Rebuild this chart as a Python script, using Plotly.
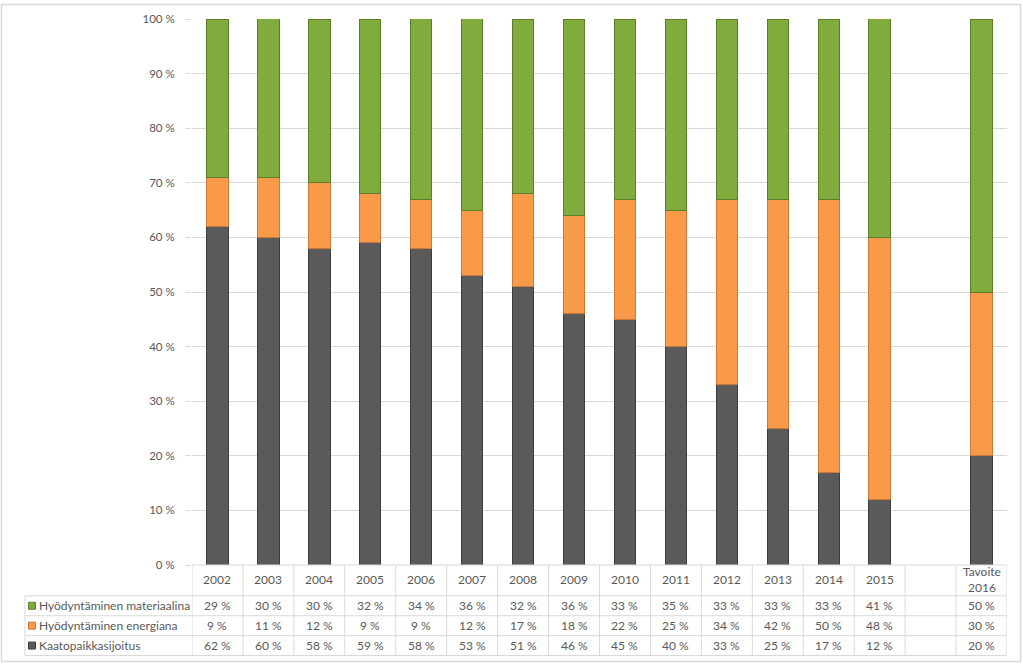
import plotly.graph_objects as go

categories = ["2002", "2003", "2004", "2005", "2006", "2007", "2008", "2009",
              "2010", "2011", "2012", "2013", "2014", "2015", " ", "Tavoite<br>2016"]
kaatopaikka = [62, 60, 58, 59, 58, 53, 51, 46, 45, 40, 33, 25, 17, 12, None, 20]
energia = [9, 11, 12, 9, 9, 12, 17, 18, 22, 25, 34, 42, 50, 48, None, 30]
materiaali = [29, 30, 30, 32, 34, 36, 32, 36, 33, 35, 33, 33, 33, 41, None, 50]
series_names = ["Hyödyntäminen materiaalina", "Hyödyntäminen energiana", "Kaatopaikkasijoitus"]
y_ticks = [0, 10, 20, 30, 40, 50, 60, 70, 80, 90, 100]
y_ticktext = [f"{v} %" for v in y_ticks]

# layout constants (pixels)
W, H = 1023, 668
L, R, T, B = 192, 16, 16, 103
plot_h = H - T - B
plot_w = W - L - R

def py(p):
    return (H - B - p) / plot_h

def px(p):
    return (p - L) / plot_w

c_gray, c_orange, c_green = "#5a5a5a", "#f89a48", "#7fac3c"
l_gray, l_orange, l_green = "#3c3c3c", "#c9793a", "#5c7e2a"
text_col = "#595959"
grid_col = "#d9d9d9"
font_fam = "Lato, 'Open Sans', sans-serif"
fs = 11.5
fs_t = 12

fig = go.Figure()
for vals, name, col, lc in [(kaatopaikka, series_names[2], c_gray, l_gray),
                            (energia, series_names[1], c_orange, l_orange),
                            (materiaali, series_names[0], c_green, l_green)]:
    fig.add_trace(go.Bar(x=categories, y=vals, name=name, width=0.42,
                         marker=dict(color=col, line=dict(color=lc, width=1)),
                         showlegend=False))

shapes = []
annotations = []
row_y = [py(565), py(596), py(616), py(636), py(656)]
n = len(categories)
# horizontal lines of table
shapes.append(dict(type="line", xref="paper", yref="paper", x0=0, x1=1, y0=row_y[0], y1=row_y[0],
                   line=dict(color=grid_col, width=1)))
for yy in row_y[1:]:
    shapes.append(dict(type="line", xref="paper", yref="paper", x0=px(25), x1=1, y0=yy, y1=yy,
                       line=dict(color=grid_col, width=1)))
# vertical lines
for i in range(n + 1):
    shapes.append(dict(type="line", xref="x", yref="paper", x0=i - 0.5, x1=i - 0.5,
                       y0=row_y[0], y1=row_y[4], line=dict(color=grid_col, width=1)))
shapes.append(dict(type="line", xref="paper", yref="paper", x0=px(25), x1=px(25),
                   y0=row_y[1], y1=row_y[4], line=dict(color=grid_col, width=1)))
# outer border
shapes.append(dict(type="rect", xref="paper", yref="paper", x0=px(1.5), x1=px(1020.5),
                   y0=py(662), y1=py(1.5), line=dict(color="#d9d9d9", width=1.5)))

# header labels
for i, c in enumerate(categories):
    annotations.append(dict(x=i, y=py(580), xref="x", yref="paper", text=c.strip(),
                            xanchor="center", yanchor="middle",
                            showarrow=False, font=dict(size=fs_t, color=text_col, family=font_fam)))

row_centers = [py(606), py(626), py(646)]
table_series = [materiaali, energia, kaatopaikka]
key_cols = [(c_green, l_green), (c_orange, l_orange), (c_gray, l_gray)]
for ri, (vals, name) in enumerate(zip(table_series, series_names)):
    yc = row_centers[ri]
    for i, v in enumerate(vals):
        if v is None:
            continue
        annotations.append(dict(x=i, y=yc, xref="x", yref="paper", text=f"{v} %",
                                xanchor="center", yanchor="middle",
                                showarrow=False, font=dict(size=fs_t, color=text_col, family=font_fam)))
    annotations.append(dict(x=px(37), y=yc, xref="paper", yref="paper", text=name,
                            xanchor="left", yanchor="middle",
                            showarrow=False, font=dict(size=fs_t, color=text_col, family=font_fam)))
    fc, lc = key_cols[ri]
    pyc = H - B - yc * plot_h
    shapes.append(dict(type="rect", xref="paper", yref="paper", x0=px(28.5), x1=px(35.5),
                       y0=py(pyc + 3.5), y1=py(pyc - 3.5), fillcolor=fc, line=dict(color=lc, width=1)))

fig.update_layout(
    width=W, height=H,
    margin=dict(l=L, r=R, t=T, b=B),
    paper_bgcolor="white", plot_bgcolor="white",
    barmode="stack",
    shapes=shapes, annotations=annotations,
    font=dict(family=font_fam, color=text_col, size=fs),
    xaxis=dict(type="category", showticklabels=False, showgrid=False, zeroline=False,
               showline=False, range=[-0.5, n - 0.5], fixedrange=True),
    yaxis=dict(range=[0, 100], tickvals=y_ticks, ticktext=y_ticktext, showgrid=True,
               gridcolor=grid_col, gridwidth=1, zeroline=False, showline=False,
               ticks="outside", ticklen=6, tickcolor=grid_col, ticklabelstandoff=8,
               tickfont=dict(size=fs, color=text_col, family=font_fam)),
)

fig.write_html("out.html", config={"displayModeBar": False},
               post_script="document.body.style.margin='0';")
